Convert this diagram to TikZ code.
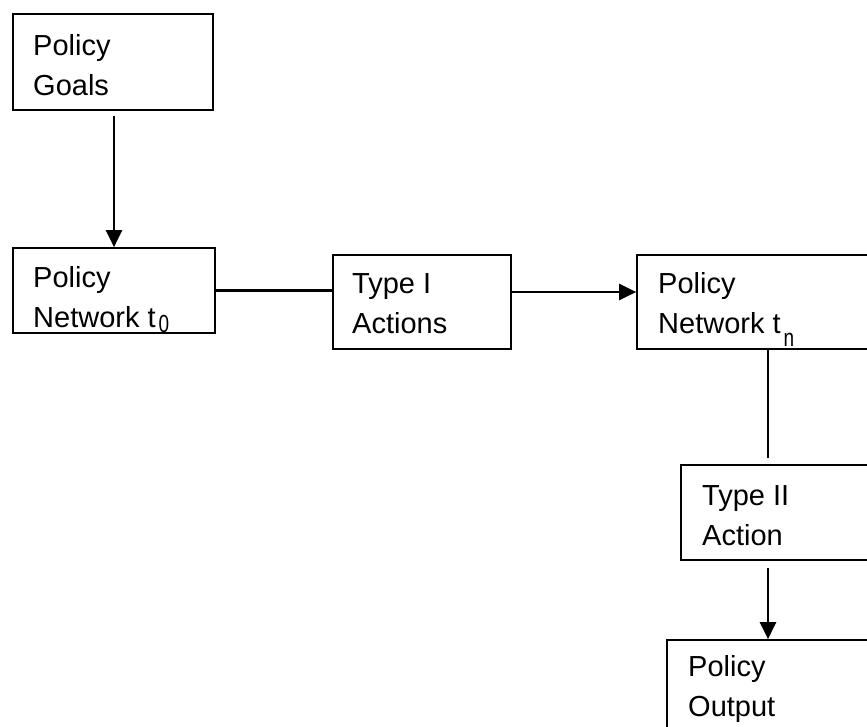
\documentclass[tikz,border=0pt]{standalone}
\usepackage{fontspec}
\setmainfont{Liberation Sans}
\usetikzlibrary{arrows.meta}
% small lowered index; optional argument = how far it drops below the baseline
\newcommand{\lowsub}[2][5pt]{\hspace{3pt}\raisebox{-#1}{\scalebox{1}[1.3]{\fontsize{19}{19}\selectfont #2}}}
\begin{document}
\begin{tikzpicture}[x=1pt,y=-1pt,
  box/.style={draw,line width=1.7pt,rectangle,inner sep=0pt},
  txt/.style={anchor=base west,inner sep=0pt,align=left,
    font=\fontsize{29}{40}\selectfont},
  flow/.style={line width=2.6pt,-{Triangle[length=17pt,width=16pt]}},
  link/.style={line width=2.2pt},
  thin/.style={line width=1.3pt}]
\useasboundingbox (0,0) rectangle (867,726);
% boxes
\node[box,minimum width=200pt,minimum height=96pt] (g) at (113,62) {};
\node[box,minimum width=202pt,minimum height=85pt] (n0) at (114,290.5) {};
\node[box,minimum width=178pt,minimum height=94pt] (t1) at (422,302) {};
\node[box,minimum width=240pt,minimum height=94pt] (nn) at (757,302) {};
\node[box,minimum width=200pt,minimum height=95pt] (t2) at (781,512.5) {};
\node[box,minimum width=210pt,minimum height=95pt] (out) at (772,687.5) {};
% labels (anchored at the baseline of the last line)
\node[txt] (gl) at (33,95) {Policy\\Goals};
\node[txt] (n0l) at (33,327) {Policy\\Network t\lowsub[5pt]{0}};
\node[txt] (t1l) at (352,333) {Type I\\Actions};
\node[txt] (nnl) at (658,333) {Policy\\Network t\lowsub[13pt]{n}};
\node[txt] (t2l) at (702,545) {Type II\\Action};
\node[txt] (outl) at (688,716) {Policy\\Output};
% connectors
\draw[flow,shorten <=5pt] ([xshift=1pt]g.south) -- ([xshift=1pt]g.south |- n0.north);
\draw[link] (n0.east) -- (n0.east -| t1.west);
\draw[flow] ([yshift=10pt]t1.east) -- ([yshift=10pt]t1.east -| nn.west);
\draw[thin,shorten >=6pt] ([xshift=11pt]nn.south) -- ([xshift=11pt]nn.south |- t2.north);
\draw[flow,shorten <=7pt] ([xshift=-13pt]t2.south) -- ([xshift=-13pt]t2.south |- out.north);
\end{tikzpicture}
\end{document}
